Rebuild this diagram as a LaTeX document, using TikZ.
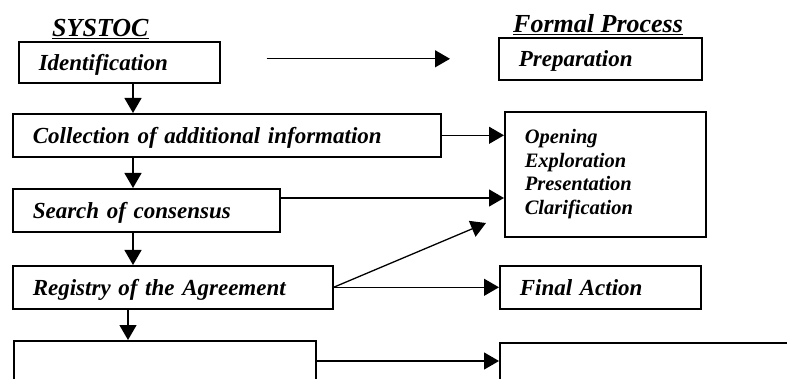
\documentclass[tikz,border=0pt]{standalone}
\usepackage{fontspec}
\setmainfont{Liberation Serif}
\usetikzlibrary{shapes,arrows.meta}
\newcommand{\headfont}{\fontsize{26}{30}\selectfont\bfseries\itshape}
\newcommand{\boxfont}{\fontsize{23}{27}\selectfont\bfseries\itshape}
\newcommand{\listfont}{\fontsize{20.5}{23.5}\selectfont\bfseries\itshape}
\tikzstyle{frame} = [rectangle, draw, line width=1.6pt, anchor=north west,
    inner xsep=20pt, inner ysep=0pt, align=left, font=\boxfont]
\tikzstyle{block} = [frame, text depth=0pt]
\tikzstyle{title} = [anchor=base west, inner sep=0pt, font=\headfont]
\tikzstyle{line} = [draw, line width=1.3pt, -{Triangle[length=15pt,width=17pt]}]

\begin{document}
\begin{tikzpicture}[x=1pt, y=-1pt]
    \clip (0,0) rectangle (787,379);
    % Place nodes
    \node [title] (systoc) at (52,37) {\underline{SYSTOC}};
    \node [title] (formal) at (513,33) {\underline{Formal Process}};
    \node [block, text width=161pt, minimum height=41pt] (ident) at (18,41) {Identification};
    \node [block, text width=388pt, minimum height=43pt] (collect) at (12,113) {Collection of additional information};
    \node [block, text width=227pt, minimum height=43pt] (search) at (12,188) {Search of consensus};
    \node [block, text width=280pt, minimum height=43pt] (reg) at (12,265) {Registry of the Agreement};
    \node [block, minimum width=302pt, minimum height=60pt] (bottom) at (13,340) {};
    \node [block, text width=163pt, minimum height=42pt] (prep) at (498,37) {Preparation};
    \node [frame, text width=161pt, minimum height=125pt, font=\listfont] (opening) at (504,111)
        {Opening\\Exploration\\Presentation\\Clarification};
    \node [block, text width=161pt, minimum height=43pt] (final) at (499,265) {Final Action};
    \node [block, minimum width=331pt, minimum height=60pt] (outbox) at (499,342) {};
    \coordinate (spine) at (133,0);
    \coordinate (spineb) at (128,0);
    \coordinate (diagend) at (486,223);
    % Draw edges
    \path [line, shorten <=46pt, shorten >=48pt] (ident.east |- prep.west) -- (prep.west);
    \path [line] (ident.south -| spine) -- (collect.north -| spine);
    \path [line] (collect.south -| spine) -- (search.north -| spine);
    \path [line] (search.south -| spine) -- (reg.north -| spine);
    \path [line] (reg.south -| spineb) -- (bottom.north -| spineb);
    \path [line] (collect.east) -- (collect.east -| opening.west);
    \path [line] ([yshift=-10pt]search.north east) -- ([yshift=-10pt]search.north east -| opening.west);
    \path [line] (reg.east) -- (diagend);
    \path [line] (reg.east) -- (reg.east -| final.west);
    \path [line] ([yshift=-21pt]bottom.north east) -- ([yshift=-21pt]bottom.north east -| outbox.west);
\end{tikzpicture}
\end{document}
